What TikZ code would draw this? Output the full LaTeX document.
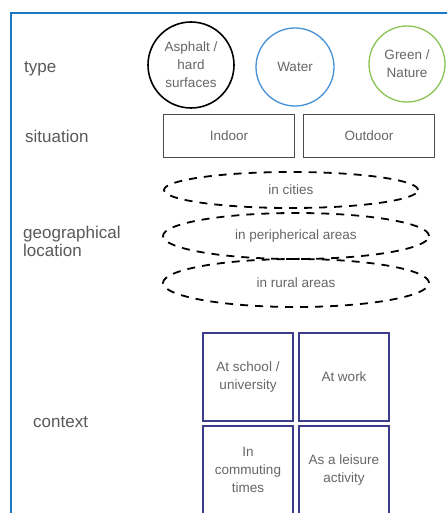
\documentclass[tikz,border=0pt]{standalone}
\usepackage{fontspec}
\setmainfont{Liberation Sans}
\usetikzlibrary{shapes.geometric}

\definecolor{framblue}{RGB}{30,120,200}
\definecolor{waterblue}{RGB}{70,145,215}
\definecolor{natgreen}{RGB}{140,195,85}
\definecolor{ctxnavy}{RGB}{60,60,140}

\begin{document}
\begin{tikzpicture}[x=1pt,y=-1pt,
    rowlabel/.style={text=black!65,font=\fontsize{17}{18}\selectfont,align=left,anchor=west,inner sep=0pt},
    intext/.style={text=black!60,font=\fontsize{13.5}{18}\selectfont,align=center}]
\useasboundingbox (0,0) rectangle (447,513);
\clip (0,0) rectangle (447,513);
\fill[white] (0,0) rectangle (447,513);
\draw[framblue,line width=2pt] (11,530) -- (11,13) -- (470,13);

% row labels
\node[rowlabel] (type) at (24,69) {type};
\node[rowlabel] (sit) at (25,136) {situation};
\node[rowlabel] (geo) at (23,241) {geographical\\location};
\node[rowlabel] (ctx) at (33,422) {context};

% type
\begin{scope}[every node/.style={intext,circle,inner sep=0pt}]
    \node[draw=black,line width=1.6pt,minimum size=86pt] (asph) at (191,65) {Asphalt /\\hard\\surfaces};
    \node[draw=waterblue,line width=1.3pt,minimum size=78pt] (water) at (295,67) {Water};
    \node[draw=natgreen,line width=1.3pt,minimum size=76pt] (green) at (407,64) {Green /\\Nature};
\end{scope}

% situation
\begin{scope}[every node/.style={intext,rectangle,draw=black!70,line width=1pt,minimum width=131pt,minimum height=42pt}]
    \node (indoor) at (229,136) {Indoor};
    \node (outdoor) at (369,136) {Outdoor};
\end{scope}

% geographical location
\begin{scope}[every node/.style={intext,ellipse,draw=black,line width=1.8pt,dash pattern=on 8pt off 7pt,inner sep=0pt}]
    \node[minimum width=254pt,minimum height=36pt] (cities) at (291,190) {in cities};
    \node[minimum width=266pt,minimum height=46pt] (periph) at (296,236) {in peripherical areas};
    \node[minimum width=266pt,minimum height=48pt] (rural) at (296,283) {in rural areas};
\end{scope}

% context
\begin{scope}[every node/.style={intext,rectangle,draw=ctxnavy,line width=1.8pt,minimum width=90pt,minimum height=88pt}]
    \node (school) at (248,377) {At school /\\university};
    \node (work) at (344,377) {At work};
    \node (commute) at (248,470) {In\\commuting\\times};
    \node (leisure) at (344,470) {As a leisure\\activity};
\end{scope}
\end{tikzpicture}
\end{document}
